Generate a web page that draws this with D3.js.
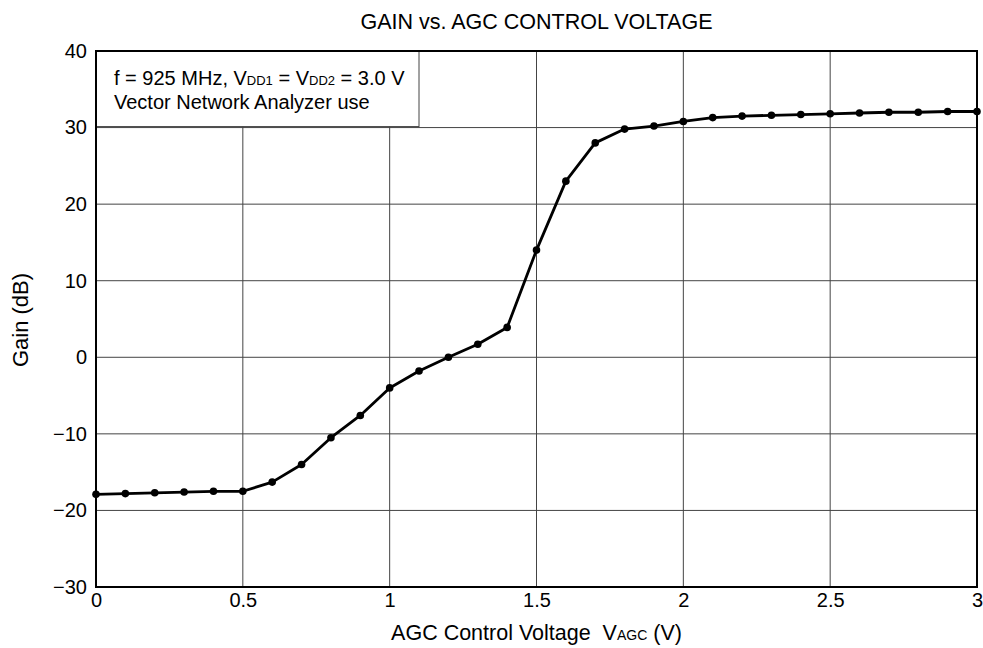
<!DOCTYPE html>
<html>
<head>
<meta charset="utf-8">
<script src="https://cdn.jsdelivr.net/npm/d3@7"></script>
<style>
  body { margin: 0; background: #fff; }
  svg text { font-family: "Liberation Sans", Arial, Helvetica, sans-serif; fill: #000; }
</style>
</head>
<body>
<div id="chart"></div>
<script>

// data
const vagc = [0, 0.1, 0.2, 0.3, 0.4, 0.5, 0.6, 0.7, 0.8, 0.9, 1.0,
              1.1, 1.2, 1.3, 1.4, 1.5, 1.6, 1.7, 1.8, 1.9, 2.0,
              2.1, 2.2, 2.3, 2.4, 2.5, 2.6, 2.7, 2.8, 2.9, 3.0];
const gain = [-17.9, -17.8, -17.7, -17.6, -17.5, -17.5, -16.3, -14.0, -10.5, -7.6, -4.0,
              -1.8, 0.0, 1.7, 3.9, 14.0, 23.0, 28.0, 29.8, 30.2, 30.8,
              31.3, 31.5, 31.6, 31.7, 31.8, 31.9, 32.0, 32.0, 32.1, 32.1];
const xTicks = [0, 0.5, 1, 1.5, 2, 2.5, 3];
const yTicks = [-30, -20, -10, 0, 10, 20, 30, 40];



const W = 983, H = 648;
const margin = { left: 96, right: 6, top: 51, bottom: 61 };

const svg = d3.select("#chart").append("svg")
  .attr("width", W)
  .attr("height", H);

const x = d3.scaleLinear().domain([0, 3]).range([margin.left, W - margin.right]);
const y = d3.scaleLinear().domain([-30, 40]).range([H - margin.bottom, margin.top]);


// grid
svg.append("g")
  .selectAll("line")
  .data(xTicks.slice(1, -1))
  .enter().append("line")
  .attr("x1", d => x(d)).attr("x2", d => x(d))
  .attr("y1", y(40)).attr("y2", y(-30))
  .attr("stroke", "#444").attr("stroke-width", 1);

svg.append("g")
  .selectAll("line")
  .data(yTicks.slice(1, -1))
  .enter().append("line")
  .attr("x1", x(0)).attr("x2", x(3))
  .attr("y1", d => y(d)).attr("y2", d => y(d))
  .attr("stroke", "#444").attr("stroke-width", 1);


// legend box (sits in the top-left corner of the plot)
const box = svg.append("g");
box.append("rect")
  .attr("x", x(0)).attr("y", y(40))
  .attr("width", 323).attr("height", y(30) - y(40) - 1)
  .attr("fill", "#fff").attr("stroke", "#444").attr("stroke-width", 1);

const l1 = box.append("text").attr("x", x(0) + 18).attr("y", 85).attr("font-size", 20);
l1.append("tspan").text("f = 925 MHz, V");
l1.append("tspan").attr("font-size", 13).text("DD1");
l1.append("tspan").text(" = V");
l1.append("tspan").attr("font-size", 13).text("DD2");
l1.append("tspan").text(" = 3.0 V");

box.append("text").attr("x", x(0) + 18).attr("y", 109).attr("font-size", 20)
  .text("Vector Network Analyzer use");


// frame
svg.append("rect")
  .attr("x", x(0)).attr("y", y(40))
  .attr("width", x(3) - x(0)).attr("height", y(-30) - y(40))
  .attr("fill", "none").attr("stroke", "#000").attr("stroke-width", 2);


// axes (labels only, the frame draws the lines)
const xAxis = svg.append("g")
  .attr("transform", "translate(0," + y(-30) + ")")
  .call(d3.axisBottom(x).tickValues(xTicks).tickSize(0).tickPadding(6).tickFormat(d3.format("")));
xAxis.select(".domain").remove();
xAxis.selectAll("text").attr("font-size", 20).attr("font-family", null);

const yAxis = svg.append("g")
  .attr("transform", "translate(" + x(0) + ",0)")
  .call(d3.axisLeft(y).tickValues(yTicks).tickSize(0).tickPadding(9).tickFormat(d3.format("")));
yAxis.select(".domain").remove();
yAxis.selectAll("text").attr("font-size", 20).attr("font-family", null);


// curve
svg.append("path")
  .datum(d3.zip(vagc, gain))
  .attr("d", d3.line().x(d => x(d[0])).y(d => y(d[1])))
  .attr("fill", "none").attr("stroke", "#000").attr("stroke-width", 2.8)
  .attr("stroke-linejoin", "round");

svg.append("g")
  .selectAll("circle")
  .data(d3.zip(vagc, gain))
  .enter().append("circle")
  .attr("cx", d => x(d[0]))
  .attr("cy", d => y(d[1]))
  .attr("r", 3.8)
  .attr("fill", "#000");


// titles
svg.append("text")
  .attr("x", (x(0) + x(3)) / 2).attr("y", 29)
  .attr("text-anchor", "middle").attr("font-size", 21.5)
  .text("GAIN vs. AGC CONTROL VOLTAGE");

const xt = svg.append("text")
  .attr("x", (x(0) + x(3)) / 2).attr("y", 640)
  .attr("text-anchor", "middle").attr("font-size", 21.5);
xt.append("tspan").text("AGC Control Voltage\u00a0\u00a0V");
xt.append("tspan").attr("font-size", 14).text("AGC");
xt.append("tspan").text(" (V)");

svg.append("text")
  .attr("transform", "translate(28," + ((y(40) + y(-30)) / 2 + 1) + ") rotate(-90)")
  .attr("text-anchor", "middle").attr("font-size", 22)
  .text("Gain (dB)");

</script>
</body>
</html>
